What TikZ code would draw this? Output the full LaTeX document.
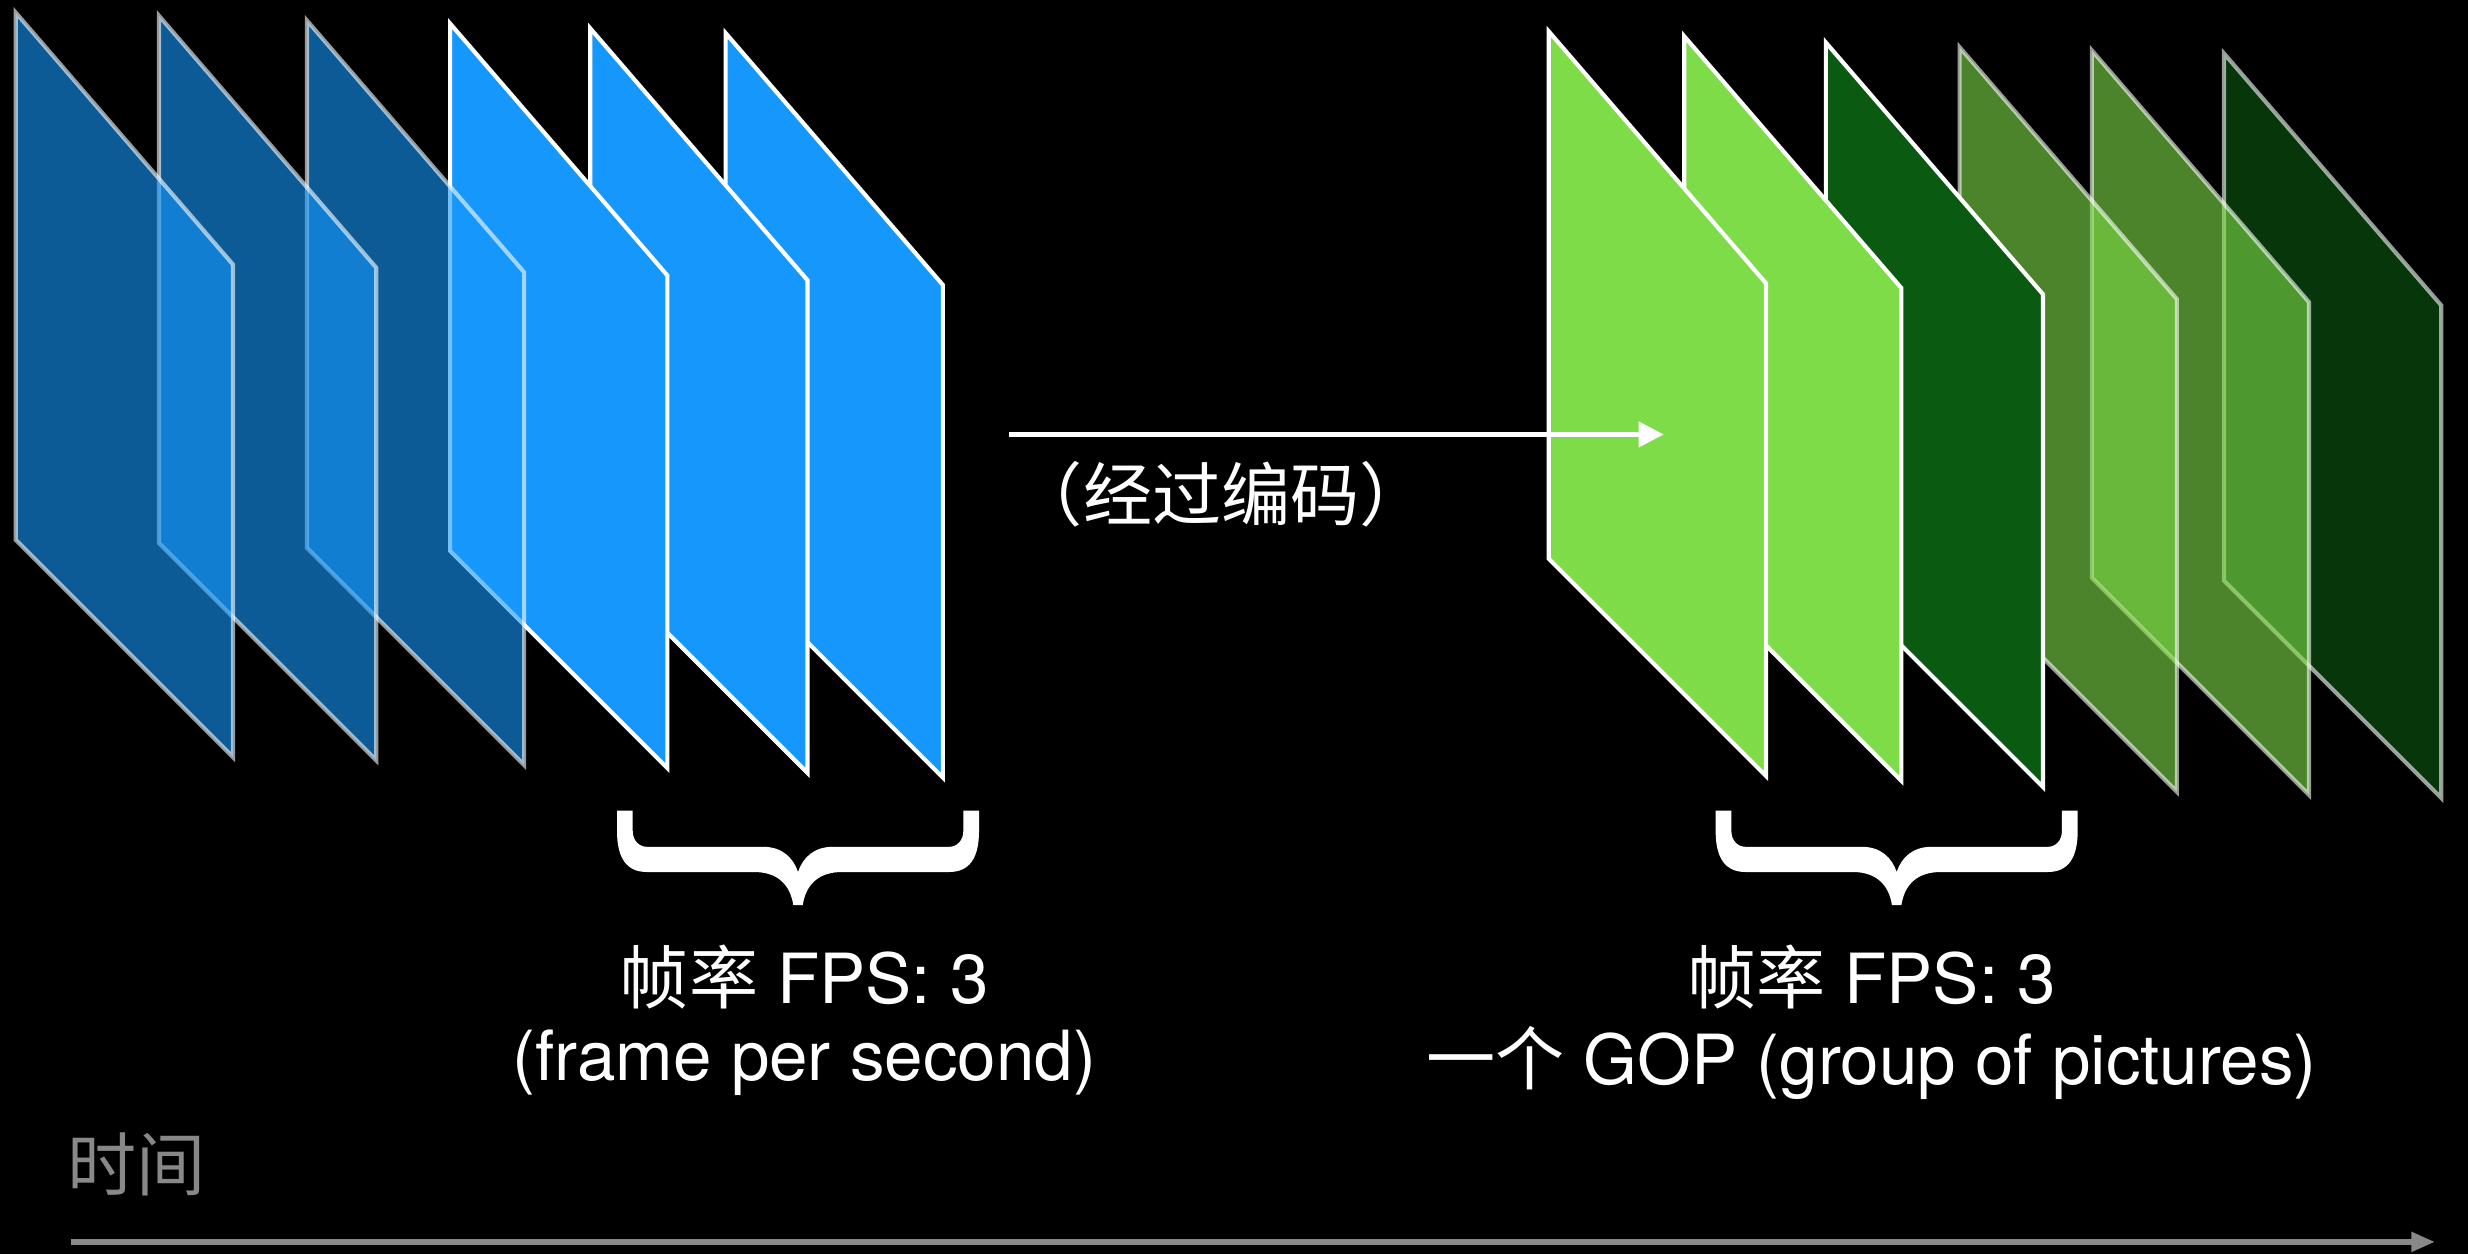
\documentclass[tikz,border=0pt]{standalone}
\usepackage{fontspec}
\setmainfont{TeX Gyre Heros}
\newfontfamily\cjk{Noto Sans CJK SC}
\usetikzlibrary{positioning,arrows.meta}
\definecolor{paneblue}{HTML}{1597FB}
\definecolor{lightgreen}{HTML}{7DDC48}
\definecolor{darkgreen}{HTML}{0B5A12}
\definecolor{axisgray}{HTML}{888888}

\begin{document}
\begin{tikzpicture}[x=0.2mm,y=-0.2mm,node distance=10.8mm,
    pane/.style={draw=white,line width=1.5pt,line join=miter},
    label text/.style={text=white,inner sep=0pt,font=\fontsize{25}{30}\selectfont},
    curly/.pic={
        \fill[white] (0,0) -- (0,13) .. controls (0,30) and (6,39) .. (19,39) -- (87,39)
            .. controls (102,39) and (110,47) .. (112,60) -- (118,60)
            .. controls (120,47) and (128,39) .. (143,39) -- (211,39)
            .. controls (224,39) and (230,30) .. (230,13) -- (230,0) -- (220,0) -- (220,13)
            .. controls (220,19) and (216,23) .. (211,23) -- (137,23)
            .. controls (125,23) and (118,30) .. (115,39)
            .. controls (112,30) and (105,23) .. (93,23) -- (19,23)
            .. controls (14,23) and (10,19) .. (10,13) -- (10,0) -- cycle;
    }]

    \fill[black] (0,0) rectangle (1568,797);
    \useasboundingbox (0,0) rectangle (1568,797);

    % blue frames, back to front
    \foreach \x/\y/\op in {461/21/1, 375/18/1, 286/15/1, 195/13/0.6, 101/10/0.6, 10/8/0.6}
        \filldraw[pane,fill=paneblue,opacity=\op] (\x,\y) -- ++(138,160) -- ++(0,313) -- ++(-138,-138) -- cycle;

    % green frames, back to front
    \foreach \x/\y/\c/\op in {1413/34/darkgreen/0.6, 1329/32/lightgreen/0.6, 1245/30/lightgreen/0.6,
                              1160/27/darkgreen/1, 1070/23/lightgreen/1, 984/20/lightgreen/1}
        \filldraw[pane,fill=\c,opacity=\op] (\x,\y) -- ++(138,160) -- ++(0,313) -- ++(-138,-138) -- cycle;

    \coordinate (e0) at (641,276);
    \coordinate (e1) at (1057,276);
    \draw[-{Triangle[length=3.2mm,width=3.2mm]},white,line width=0.55mm] (e0) -- (e1);
    \node[label text] (enc) at (776,314) {\cjk （经过编码）};

    \pic (b1) at (392,515) {curly};
    \pic (b2) at (1090,515) {curly};

    \node[label text] (fps1) at (511,621) {{\cjk 帧率} FPS: 3};
    \node[label text] (sec) [below of = fps1] {(frame per second)};
    \node[label text] (fps2) at (1189,621) {{\cjk 帧率} FPS: 3};
    \node[label text] (gop) [below of = fps2] {{\cjk 一个} GOP (group of pictures)};

    \node[label text,text=axisgray] (time) at (87,740) {\cjk 时间};
    \coordinate (t0) at (45,789);
    \coordinate (t1) at (1547,789);
    \draw[-{Triangle[length=3mm,width=2.4mm]},axisgray,line width=0.7mm] (t0) -- (t1);

\end{tikzpicture}
\end{document}
